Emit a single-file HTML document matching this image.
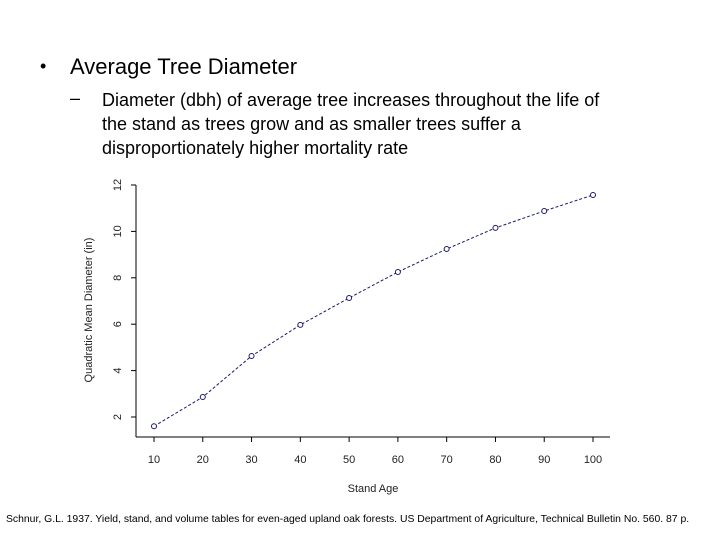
<!DOCTYPE html>
<html><head><meta charset="utf-8"><style>
body{margin:0;width:720px;height:540px;background:#fff;overflow:hidden;font-family:"Liberation Sans",sans-serif;position:relative}
.t{position:absolute;color:#000;white-space:nowrap}
</style></head><body>
<div class="t" style="left:40px;top:56px;font-size:18px">•</div>
<div class="t" style="left:70px;top:54px;font-size:22px">Average Tree Diameter</div>
<div class="t" style="left:70px;top:88px;font-size:18px">–</div>
<div class="t" style="left:102px;top:88px;font-size:18px;line-height:24px">Diameter (dbh) of average tree increases throughout the life of<br>the stand as trees grow and as smaller trees suffer a<br>disproportionately higher mortality rate</div>
<div class="t" style="left:6px;top:514px;font-size:10.4px">Schnur, G.L. 1937. Yield, stand, and volume tables for even-aged upland oak forests. US Department of Agriculture, Technical Bulletin No. 560. 87 p.</div>
<svg id="chart" width="720" height="540" style="position:absolute;left:0;top:0"></svg>
<script>
const ages=[10,20,30,40,50,60,70,80,90,100];
const diameters=[1.6,2.86,4.63,5.97,7.13,8.25,9.24,10.15,10.88,11.57];
const xTicks=[10,20,30,40,50,60,70,80,90,100];
const yTicks=[2,4,6,8,10,12];
const xTitle="Stand Age";
const yTitle="Quadratic Mean Diameter (in)";
const svg=document.getElementById('chart');
const NS='http://www.w3.org/2000/svg';
const X=v=>154+(v-10)*(593-154)/90;
const Y=v=>417-(v-2)*(417-185)/10;
function mk(tag,attrs,parent){const e=document.createElementNS(NS,tag);for(const k in attrs)e.setAttribute(k,attrs[k]);(parent||svg).appendChild(e);return e;}
const xa=mk('line',{x1:136,x2:610,y1:437,y2:437,stroke:'#000','stroke-width':1});


const ya=mk('line',{x1:136,x2:136,y1:185,y2:437,stroke:'#000','stroke-width':1});


xTicks.forEach(v=>{
 mk('line',{x1:X(v),x2:X(v),y1:437,y2:442,stroke:'#000'});
 const t=mk('text',{x:X(v),y:463,'font-size':11,'text-anchor':'middle',fill:'#222','font-family':'Liberation Sans'});
 t.textContent=v;
 
 
});
yTicks.forEach(v=>{
 mk('line',{x1:131,x2:136,y1:Y(v),y2:Y(v),stroke:'#000'});
 const t=mk('text',{x:0,y:0,'font-size':11,'text-anchor':'middle',fill:'#222','font-family':'Liberation Sans',transform:`translate(121,${Y(v)}) rotate(-90)`});
 t.textContent=v;
 
 
});
const xt=mk('text',{x:373,y:492,'font-size':11,'text-anchor':'middle',fill:'#222','font-family':'Liberation Sans'});
xt.textContent=xTitle;


const yt=mk('text',{x:0,y:0,'font-size':11,'text-anchor':'middle',fill:'#222','font-family':'Liberation Sans',transform:'translate(92,310) rotate(-90)'});
yt.textContent=yTitle;


const pl=mk('polyline',{points:ages.map((a,i)=>X(a)+','+Y(diameters[i])).join(' '),fill:'none',stroke:'#1a1a6a','stroke-width':1,'stroke-dasharray':'3,2'});


ages.forEach((a,i)=>{
 const c=mk('circle',{cx:X(a),cy:Y(diameters[i]),r:2.5,fill:'#fff',stroke:'#1a1a6a','stroke-width':1});
 
 
});
</script>
</body></html>
